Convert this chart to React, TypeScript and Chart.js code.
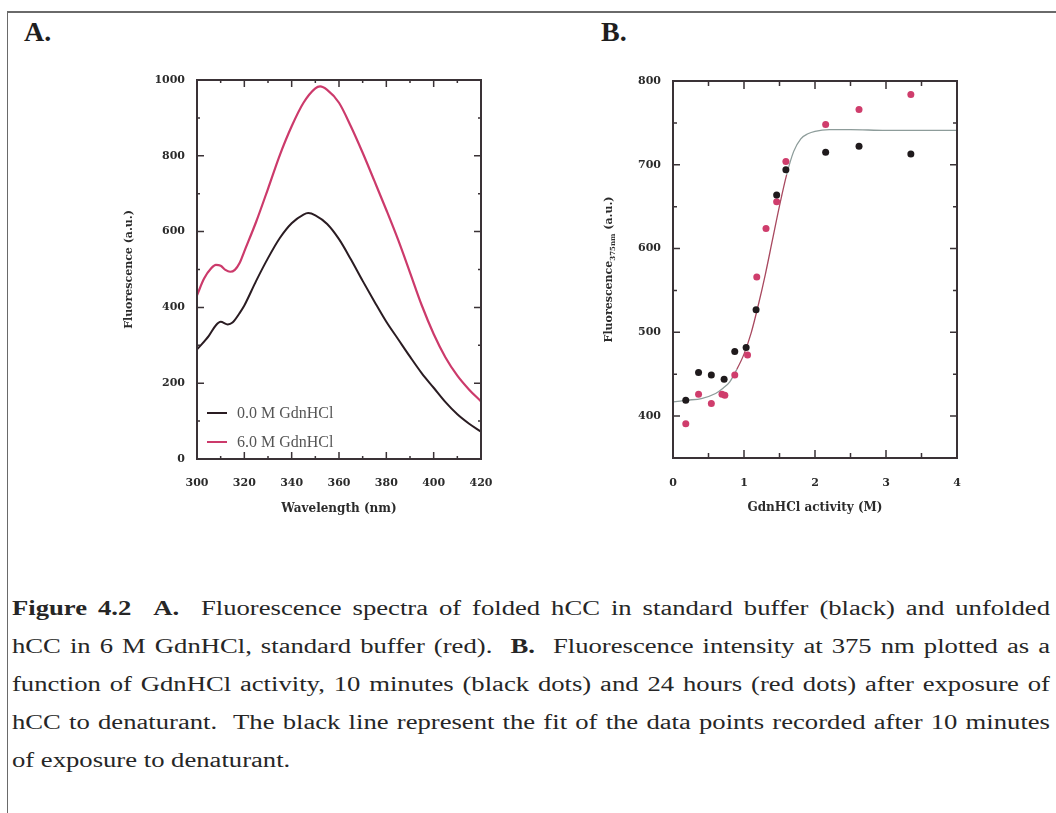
import React, { useEffect, useRef } from "react";
import { Chart, registerables } from "chart.js";
Chart.register(...registerables);

// ---------- Panel A: emission spectra ----------
const seriesNamesA = ["0.0 M GdnHCl", "6.0 M GdnHCl"];
const wlBlack = [300, 305, 308, 310, 313, 315, 318, 320, 325, 330, 335, 340, 345, 347, 350, 355, 360, 365, 370, 375, 380, 385, 390, 395, 400, 405, 410, 415, 420];
const fluorBlack = [289, 325, 353, 362, 355, 360, 385, 405, 470, 530, 583, 622, 645, 649, 643, 620, 580, 527, 470, 415, 362, 316, 270, 226, 188, 150, 118, 93, 72];
const wlRed = [300, 303, 306, 308, 310, 312, 314, 316, 318, 320, 325, 330, 335, 340, 345, 350, 352, 355, 360, 365, 370, 375, 380, 385, 390, 395, 400, 405, 410, 415, 420];
const fluorRed = [432, 476, 503, 512, 510, 499, 494, 499, 517, 548, 626, 713, 802, 878, 940, 978, 983, 974, 940, 878, 808, 733, 657, 578, 492, 405, 330, 268, 220, 183, 152];
const xTicksA = [300, 320, 340, 360, 380, 400, 420];
const yTicksA = [0, 200, 400, 600, 800, 1000];
const xMarksA = [310, 320, 330, 340, 350, 360, 370, 380, 390, 400, 410];
const yMarksA = [100, 200, 300, 400, 500, 600, 700, 800, 900];

// ---------- Panel B: denaturation curve ----------
const seriesNamesB = ["10 minutes", "24 hours", "fit (10 minutes)"];
const actBlack = [0.18, 0.36, 0.54, 0.72, 0.87, 1.03, 1.17, 1.46, 1.59, 2.15, 2.62, 3.35];
const fluorBlackB = [419, 452, 449, 444, 477, 482, 527, 664, 694, 715, 722, 713];
const actRed = [0.18, 0.36, 0.54, 0.69, 0.73, 0.87, 1.05, 1.18, 1.31, 1.46, 1.59, 2.15, 2.62, 3.35];
const fluorRedB = [391, 426, 415, 426, 425, 449, 473, 566, 624, 656, 704, 748, 766, 784];
const fitAct = [0, 0.2, 0.4, 0.6, 0.7, 0.8, 0.9, 1.0, 1.1, 1.2, 1.3, 1.4, 1.5, 1.6, 1.7, 1.8, 1.9, 2.0, 2.2, 2.5, 3.0, 3.5, 4.0];
const fitFluor = [417, 419, 421, 427, 433, 441, 456, 474, 499, 532, 569, 610, 651, 688, 716, 731, 737, 740, 742, 742, 741, 741, 741];
const xTicksB = [0, 1, 2, 3, 4];
const yTicksB = [400, 500, 600, 700, 800];
const xMarksB = [0.5, 1, 1.5, 2, 2.5, 3, 3.5];
const yMarksB = [400, 450, 500, 550, 600, 650, 700, 750];

const TICK_FONT = { family: "'DejaVu Serif', serif", weight: "bold" as const, size: 11 };
const TEXT_COLOR = "#2b2b2b";
const FRAME_COLOR = "#3a3236";

function pts(xs: number[], ys: number[]) {
  return xs.map((x, i) => ({ x, y: ys[i] }));
}

function drawFrame(chart: any, xMarks: number[], yMarks: number[], isMajorX: (v: number) => boolean, isMajorY: (v: number) => boolean, lens: { xMaj: number; xMin: number; yMaj: number; yMin: number }) {
  const { ctx, chartArea: a, scales } = chart;
  const sx = scales.x;
  const sy = scales.y;
  ctx.save();
  ctx.strokeStyle = FRAME_COLOR;
  ctx.lineWidth = 1.5;
  ctx.beginPath();
  for (const v of xMarks) {
    const px = sx.getPixelForValue(v);
    const len = isMajorX(v) ? lens.xMaj : lens.xMin;
    ctx.moveTo(px, a.bottom);
    ctx.lineTo(px, a.bottom - len);
    ctx.moveTo(px, a.top);
    ctx.lineTo(px, a.top + len);
  }
  for (const v of yMarks) {
    const py = sy.getPixelForValue(v);
    const len = isMajorY(v) ? lens.yMaj : lens.yMin;
    ctx.moveTo(a.left, py);
    ctx.lineTo(a.left + len, py);
    ctx.moveTo(a.right, py);
    ctx.lineTo(a.right - len, py);
  }
  ctx.stroke();
  ctx.lineWidth = 2;
  ctx.strokeRect(a.left, a.top, a.right - a.left, a.bottom - a.top);
  ctx.restore();
}

const panelAPlugin = {
  id: "panelA",
  afterDatasetsDraw(chart: any) {
    drawFrame(chart, xMarksA, yMarksA, (v) => v % 20 === 0, (v) => v % 200 === 0, { xMaj: 7, xMin: 3, yMaj: 7, yMin: 3 });
    const { ctx, chartArea: a } = chart;
    ctx.save();
    const rows = [a.bottom - 46, a.bottom - 17];
    chart.data.datasets.forEach((ds: any, i: number) => {
      const y = rows[i];
      ctx.strokeStyle = ds.borderColor;
      ctx.lineWidth = 2;
      ctx.beginPath();
      ctx.moveTo(a.left + 10, y);
      ctx.lineTo(a.left + 30, y);
      ctx.stroke();
      ctx.fillStyle = "#555";
      ctx.font = "16px 'Liberation Serif', serif";
      ctx.textBaseline = "middle";
      ctx.textAlign = "left";
      ctx.fillText(ds.label, a.left + 40, y + 1);
    });
    ctx.restore();
  },
};

const panelBPlugin = {
  id: "panelB",
  afterDatasetsDraw(chart: any) {
    drawFrame(chart, xMarksB, yMarksB, (v) => Number.isInteger(v), (v) => v % 100 === 0, { xMaj: 8, xMin: 5, yMaj: 7, yMin: 4 });
    const { ctx, chartArea: a } = chart;
    ctx.save();
    ctx.translate(89, (a.top + a.bottom) / 2);
    ctx.rotate(-Math.PI / 2);
    ctx.fillStyle = TEXT_COLOR;
    ctx.textBaseline = "middle";
    ctx.textAlign = "left";
    const mainFont = "bold 11px 'DejaVu Serif', serif";
    const subFont = "bold 7px 'DejaVu Serif', serif";
    ctx.font = mainFont;
    const w1 = ctx.measureText("Fluorescence").width;
    const w3 = ctx.measureText(" (a.u.)").width;
    ctx.font = subFont;
    const w2 = ctx.measureText("375nm").width;
    let x0 = -(w1 + w2 + w3) / 2;
    ctx.font = mainFont;
    ctx.fillText("Fluorescence", x0, 0);
    x0 += w1;
    ctx.font = subFont;
    ctx.fillText("375nm", x0, 4);
    x0 += w2;
    ctx.font = mainFont;
    ctx.fillText(" (a.u.)", x0, 0);
    ctx.restore();
  },
};

function makeScale(opts: any) {
  return {
    type: "linear",
    min: opts.min,
    max: opts.max,
    afterBuildTicks: (s: any) => {
      s.ticks = opts.ticks.map((v: number) => ({ value: v }));
    },
    afterFit: (s: any) => {
      if (opts.axis === "x") s.height = opts.size;
      else s.width = opts.size;
      s.paddingLeft = 0;
      s.paddingRight = 0;
      s.paddingTop = 0;
      s.paddingBottom = 0;
    },
    grid: { display: false, drawTicks: false },
    border: { display: false },
    ticks: {
      padding: opts.padding,
      autoSkip: false,
      maxRotation: 0,
      color: TEXT_COLOR,
      font: TICK_FONT,
      callback: (v: any) => String(v),
    },
    title: opts.title
      ? {
          display: true,
          text: opts.title,
          color: TEXT_COLOR,
          font: { family: "'DejaVu Serif', serif", weight: "bold", size: opts.titleSize },
          padding: opts.titlePadding,
        }
      : { display: false },
  };
}

function ChartCanvas({ config, left, top, width, height }: any) {
  const ref = useRef<HTMLCanvasElement>(null);
  useEffect(() => {
    if (!ref.current) return;
    const chart = new Chart(ref.current, config());
    return () => chart.destroy();
  }, []);
  return (
    <canvas
      ref={ref}
      width={width}
      height={height}
      style={{ position: "absolute", left, top, width, height }}
    />
  );
}

const configA = () => ({
  type: "scatter",
  data: {
    datasets: [
      {
        label: seriesNamesA[0],
        data: pts(wlBlack, fluorBlack),
        showLine: true,
        borderColor: "#2a1c22",
        borderWidth: 2,
        pointRadius: 0,
        cubicInterpolationMode: "monotone",
      },
      {
        label: seriesNamesA[1],
        data: pts(wlRed, fluorRed),
        showLine: true,
        borderColor: "#cc3a6b",
        borderWidth: 2.2,
        pointRadius: 0,
        cubicInterpolationMode: "monotone",
      },
    ],
  },
  options: {
    responsive: false,
    animation: false,
    devicePixelRatio: 1,
    layout: { padding: { left: 0, right: 39, top: 80, bottom: 0 } },
    plugins: { legend: { display: false }, tooltip: { enabled: false } },
    scales: {
      x: makeScale({ axis: "x", min: 300, max: 420, ticks: xTicksA, size: 81, padding: 18, title: "Wavelength (nm)", titleSize: 12, titlePadding: { top: 0, bottom: 24 } }),
      y: makeScale({ axis: "y", min: 0, max: 1000, ticks: yTicksA, size: 197, padding: 12, title: "Fluorescence (a.u.)", titleSize: 11, titlePadding: { top: 123, bottom: 0 } }),
    },
  },
  plugins: [panelAPlugin],
});

const configB = () => ({
  type: "scatter",
  data: {
    datasets: [
      {
        label: seriesNamesB[0],
        data: pts(actBlack, fluorBlackB),
        pointRadius: 3.5,
        pointBackgroundColor: "#1f1a1c",
        pointBorderWidth: 0,
        order: 0,
      },
      {
        label: seriesNamesB[1],
        data: pts(actRed, fluorRedB),
        pointRadius: 3.5,
        pointBackgroundColor: "#cf3d6c",
        pointBorderWidth: 0,
        order: 1,
      },
      {
        label: seriesNamesB[2],
        data: pts(fitAct, fitFluor),
        showLine: true,
        pointRadius: 0,
        borderWidth: 1.3,
        borderColor: "#8d9c9a",
        cubicInterpolationMode: "monotone",
        segment: {
          borderColor: (c: any) => (c.p0.parsed.x >= 0.9 && c.p1.parsed.x <= 1.6 ? "#a8485f" : "#8d9c9a"),
        },
        order: 2,
      },
    ],
  },
  options: {
    responsive: false,
    animation: false,
    devicePixelRatio: 1,
    layout: { padding: { left: 0, right: 99, top: 81, bottom: 0 } },
    plugins: { legend: { display: false }, tooltip: { enabled: false } },
    scales: {
      x: makeScale({ axis: "x", min: 0, max: 4, ticks: xTicksB, size: 82, padding: 19, title: "GdnHCl activity (M)", titleSize: 12, titlePadding: { top: 0, bottom: 25 } }),
      y: makeScale({ axis: "y", min: 350, max: 800, ticks: yTicksB, size: 153, padding: 12 }),
    },
  },
  plugins: [panelBPlugin],
});

const CAP_SCALE = 1.3;
const captionLine: React.CSSProperties = {
  textAlign: "justify",
  textAlignLast: "justify",
  height: 38,
  lineHeight: "38px",
};

export default function App() {
  return (
    <div
      style={{
        position: "absolute",
        left: 0,
        top: 0,
        width: 1056,
        height: 813,
        overflow: "hidden",
        background: "#ffffff",
        fontFamily: "'Liberation Serif', 'Times New Roman', serif",
      }}
    >
      <div
        style={{
          position: "absolute",
          left: 7,
          top: 11,
          width: 1049,
          height: 802,
          borderTop: "2px solid #6a6a6a",
          borderLeft: "1.5px solid #6a6a6a",
          boxSizing: "border-box",
        }}
      />
      <div style={{ position: "absolute", left: 24, top: 15, fontSize: 28, fontWeight: "bold", color: "#1e1e1e", lineHeight: "34px" }}>A.</div>
      <div style={{ position: "absolute", left: 601, top: 15, fontSize: 28, fontWeight: "bold", color: "#1e1e1e", lineHeight: "34px" }}>B.</div>
      <ChartCanvas config={configA} left={0} top={0} width={520} height={540} />
      <ChartCanvas config={configB} left={520} top={0} width={536} height={540} />
      <div
        style={{
          position: "absolute",
          left: 12,
          top: 589,
          width: 1038 / CAP_SCALE,
          transform: `scaleX(${CAP_SCALE})`,
          transformOrigin: "left top",
          fontSize: 20.5,
          color: "#262626",
        }}
      >
        <div style={captionLine}>
          <b>Figure 4.2</b>{"\u00a0 "}<b>A.</b>{"\u00a0 "}Fluorescence spectra of folded hCC in standard buffer (black) and unfolded
        </div>
        <div style={captionLine}>
          hCC in 6 M GdnHCl, standard buffer (red).{"\u00a0 "}<b>B.</b>{"\u00a0 "}Fluorescence intensity at 375 nm plotted as a
        </div>
        <div style={captionLine}>
          function of GdnHCl activity, 10 minutes (black dots) and 24 hours (red dots) after exposure of
        </div>
        <div style={captionLine}>
          hCC to denaturant.{"\u00a0 "}The black line represent the fit of the data points recorded after 10 minutes
        </div>
        <div style={{ ...captionLine, textAlign: "left", textAlignLast: "left" }}>of exposure to denaturant.</div>
      </div>
    </div>
  );
}
